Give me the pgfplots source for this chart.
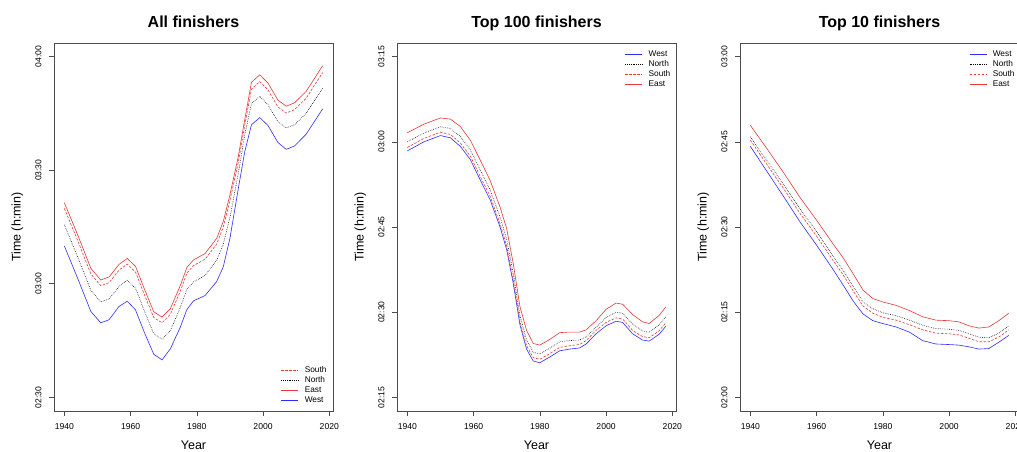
\documentclass[border=0pt]{standalone}
\usepackage{fontspec}
\setmainfont{Liberation Sans}
\usepackage{pgfplots}
\usepackage{pgfplotstable}
\pgfplotsset{compat=1.18}
\definecolor{rred}{RGB}{232,55,55}
\definecolor{rblue}{RGB}{45,45,255}

\pgfplotstableread{
year east south north west
1940 201.4 199.9 195.6 190.0
1944 193.0 191.5 187.2 181.5
1948 184.1 182.6 178.3 172.7
1951 181.0 179.5 175.2 169.7
1953.5 181.8 180.3 176.0 170.5
1956.5 185.1 183.6 179.3 174.0
1959 186.7 185.2 180.9 175.4
1961.5 184.6 183.1 178.8 173.1
1964 179.0 177.5 173.2 167.5
1967 172.6 171.1 166.8 161.4
1969.5 171.2 169.7 165.4 159.9
1972 173.4 171.9 167.6 162.8
1975 179.5 178.0 173.7 168.5
1977 184.3 182.8 178.5 173.2
1979 186.3 184.8 180.5 175.5
1982.5 188.0 186.5 182.2 176.9
1986 192.0 190.5 186.2 180.6
1988 196.5 195.0 190.5 184.5
1990 203.5 202.0 197.5 192.0
1992.5 213.5 212.0 209.0 205.0
1994.5 223.5 222.0 219.5 215.0
1996.5 233.2 231.4 227.6 222.0
1999 235.2 233.4 229.5 223.9
2001.5 233.0 231.2 227.3 221.8
2004.5 228.5 226.7 222.8 217.3
2007 226.9 225.1 221.2 215.5
2009.5 227.8 226.0 222.0 216.4
2013 230.8 229.0 225.0 219.5
2018 237.6 235.8 231.6 226.2
}\tblAll

\pgfplotstableread{
year east north south west
1940 181.6 180.0 179.0 178.4
1945 183.1 181.55 180.6 180.0
1950 184.2 182.65 181.7 181.1
1953 184.0 182.35 181.3 180.7
1956 182.7 180.95 179.8 179.2
1959 180.3 178.6 177.5 176.9
1962 176.8 175.05 173.9 173.3
1965 173.2 171.5 170.4 169.8
1968 168.5 166.75 165.6 165.0
1970 164.7 162.85 161.6 161.0
1972 158.5 156.75 155.6 155.0
1974 151.0 149.4 148.4 147.8
1976 146.8 145.15 144.1 143.5
1978 144.5 142.95 142.0 141.4
1980 144.2 142.65 141.7 141.1
1983 145.2 143.65 142.7 142.1
1986 146.4 144.8 143.8 143.2
1989 146.5 145.0 144.1 143.5
1992 146.5 145.1 144.3 143.7
1994 146.9 145.65 145.0 144.4
1997 148.5 147.35 146.8 146.2
2000 150.5 149.05 148.2 147.6
2003 151.6 150.0 149.0 148.4
2005 151.4 149.8 148.8 148.2
2008 149.6 147.9 146.8 146.2
2011 148.3 146.7 145.7 145.1
2013 148.0 146.45 145.5 144.9
2016 149.4 147.75 146.7 146.1
2018 150.9 149.2 148.1 147.5
}\tblHundred

\pgfplotstableread{
year east north south west
1940 167.9 165.9 165.3 164.2
1945 163.8 161.7 161.0 159.8
1950 159.6 157.5 156.8 155.4
1955 155.2 153.2 152.4 150.9
1960 151.2 149.2 148.4 146.8
1965 147.0 144.9 144.1 142.5
1968 144.6 142.4 141.6 139.8
1971 141.8 139.6 138.8 137.0
1974 138.9 136.8 136.1 134.7
1977 137.4 135.6 134.8 133.5
1980 136.8 134.9 134.1 133.0
1984 136.2 134.4 133.6 132.4
1988 135.3 133.6 132.8 131.5
1992 134.2 132.7 131.9 130.0
1996 133.6 132.1 131.3 129.4
2000 133.5 132.0 131.2 129.3
2003 133.3 131.8 131.0 129.2
2006 132.6 131.2 130.4 128.9
2009 132.2 130.6 129.8 128.5
2012 132.4 130.5 129.8 128.6
2015 133.5 131.3 130.6 129.7
2018 134.8 132.6 131.9 130.9
}\tblTen

\pgfplotsset{
  rstyle/.style={
    scale only axis, width=279pt, height=368pt,
    xmin=1936.88, xmax=2021.12,
    xtick={1940,1960,1980,2000,2020},
    xticklabels={1940,1960,1980,2000,2020},
    tick align=outside, xtick pos=bottom, ytick pos=left,
    major tick length=5pt,
    axis line style={black!70, line width=0.7pt},
    tick style={black!70, line width=0.6pt},
    tick label style={font=\fontsize{8.6}{10}\selectfont},
    yticklabel style={rotate=90, anchor=south},
    yticklabel shift=4pt,
    xticklabel shift=4pt,
    title style={at={(axis description cs:0.5,1.0245)}, anchor=base, font=\fontsize{16}{19}\selectfont\bfseries},
    xlabel style={at={(axis description cs:0.5,-0.0924)}, anchor=center, font=\fontsize{12.5}{15}\selectfont},
    ylabel style={at={(axis description cs:-0.131,0.5)}, anchor=center, font=\fontsize{12.5}{15}\selectfont},
    xlabel=Year, ylabel={Time (h:min)},
    legend cell align=left,
    legend image code/.code={\draw[##1] (0pt,0pt) -- (17pt,0pt); \path (22pt,0pt);},
    legend style={draw=none, fill=none, inner sep=0pt, row sep=0pt,
      nodes={inner sep=1pt, text height=6.3pt, text depth=1.7pt, font=\fontsize{8.3}{10}\selectfont}},
  },
  east/.style={rred, line width=0.6pt},
  south/.style={rred, line width=0.6pt, dash pattern=on 2.5pt off 1.5pt},
  north/.style={black, line width=0.6pt, dash pattern=on 0.6pt off 1.2pt},
  west/.style={rblue, line width=0.6pt},
}

\begin{document}
\begin{tikzpicture}
\begin{axis}[rstyle, at={(54pt,41pt)}, anchor=south west,
  title={All finishers},
  ymin=146.4, ymax=243.6,
  ytick={150,180,210,240}, yticklabels={02:30,03:00,03:30,04:00},
  legend style={at={(axis description cs:0.8136,0.125)}, anchor=north west}]
\addplot[south] table[x=year,y=south] {\tblAll}; \addlegendentry{South}
\addplot[north] table[x=year,y=north] {\tblAll}; \addlegendentry{North}
\addplot[east] table[x=year,y=east] {\tblAll}; \addlegendentry{East}
\addplot[west] table[x=year,y=west] {\tblAll}; \addlegendentry{West}
\end{axis}

\begin{axis}[rstyle, at={(397pt,41pt)}, anchor=south west,
  title={Top 100 finishers},
  ymin=132.6, ymax=197.4,
  ytick={135,150,165,180,195}, yticklabels={02:15,02:30,02:45,03:00,03:15},
  legend style={at={(axis description cs:0.8165,0.9837)}, anchor=north west}]
\addplot[west] table[x=year,y=west] {\tblHundred}; \addlegendentry{West}
\addplot[north] table[x=year,y=north] {\tblHundred}; \addlegendentry{North}
\addplot[south] table[x=year,y=south] {\tblHundred}; \addlegendentry{South}
\addplot[east] table[x=year,y=east] {\tblHundred}; \addlegendentry{East}
\end{axis}

\begin{axis}[rstyle, at={(740pt,41pt)}, anchor=south west,
  title={Top 10 finishers},
  ymin=117.6, ymax=182.4,
  ytick={120,135,150,165,180}, yticklabels={02:00,02:15,02:30,02:45,03:00},
  legend style={at={(axis description cs:0.8208,0.9837)}, anchor=north west}]
\addplot[west] table[x=year,y=west] {\tblTen}; \addlegendentry{West}
\addplot[north] table[x=year,y=north] {\tblTen}; \addlegendentry{North}
\addplot[south] table[x=year,y=south] {\tblTen}; \addlegendentry{South}
\addplot[east] table[x=year,y=east] {\tblTen}; \addlegendentry{East}
\end{axis}
\pgfresetboundingbox
\path[use as bounding box] (0pt,0pt) rectangle (1017pt,452pt);
\end{tikzpicture}
\end{document}
